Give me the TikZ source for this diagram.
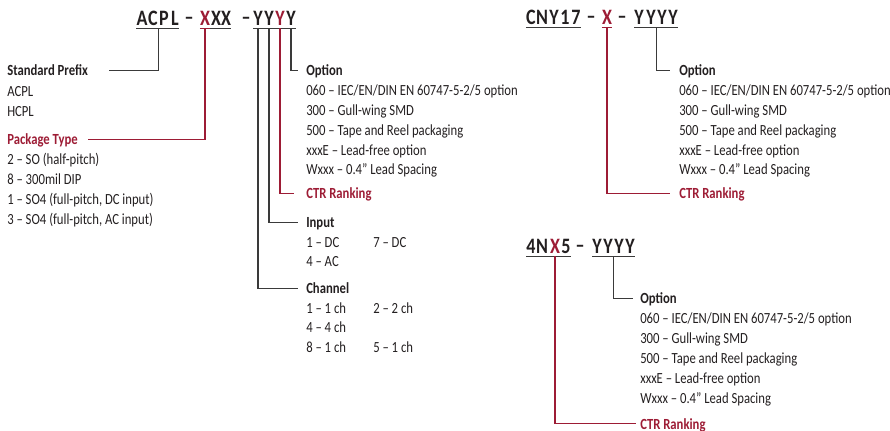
\documentclass[tikz,border=0pt]{standalone}
\usepackage{fontspec}
\setmainfont{Carlito}[FakeStretch=0.82]
\usetikzlibrary{calc}

\definecolor{txtgray}{HTML}{231F20}
\definecolor{lngray}{HTML}{3A3A3A}
\definecolor{ctrred}{HTML}{9D1C35}

\tikzset{
  ttl/.style={anchor=base, inner xsep=0pt, inner ysep=1.5pt, text depth=0pt,
    text=txtgray, font=\bfseries\fontsize{16.5}{16.5}\selectfont},
  item/.style={anchor=base west, inner sep=0pt, text=txtgray,
    font=\fontsize{11.6}{13}\selectfont},
  head/.style={item, text height=8pt, text depth=0pt, font=\bfseries\fontsize{11.6}{13}\selectfont},
  redhead/.style={head, text=ctrred},
  conn/.style={draw=lngray, line width=1pt},
  uline/.style={draw=lngray, line width=1pt}
}

\begin{document}
\begin{tikzpicture}[x=0.75pt,y=-0.75pt]
\useasboundingbox (0,0) rectangle (890,431);

%--- ACPL - XXX - YYYY
\foreach \ch/\cx [count=\i] in {A/142,C/153,P/164,L/175}
    \node[ttl] (acpl\i) at (\cx,26) {\ch};
\node[ttl] (dsha) at (189,25) {–};
\foreach \cl/\cx [count=\i] in {ctrred/205,txtgray/216,txtgray/226}
    \node[ttl,text=\cl] (acplx\i) at (\cx,26) {X};
\node[ttl] (dshb) at (246,25) {–};
\foreach \cl/\cx [count=\i] in {txtgray/258,txtgray/269,ctrred/280,txtgray/291}
    \node[ttl,text=\cl] (acply\i) at (\cx,26) {Y};
\draw[uline] (acpl1.south west) -- (acpl4.south east);
\draw[uline,draw=ctrred] (acplx1.south west) -- (acplx1.south east);
\draw[uline] (acplx1.south east) -- (acplx3.south east);
\draw[uline] (acply1.south west) -- (acply4.south east);

%--- CNY17 - X - YYYY
\foreach \ch/\cx [count=\i] in {C/531,N/542,Y/554,1/565,7/576}
    \node[ttl] (cny\i) at (\cx,25) {\ch};
\node[ttl] (dshc) at (591,24) {–};
\node[ttl,text=ctrred] (cnyx) at (607,25) {X};
\node[ttl] (dshd) at (622,24) {–};
\foreach \cx [count=\i] in {639,651,662,673}
    \node[ttl] (cnyy\i) at (\cx,25) {Y};
\draw[uline] (cny1.south west) -- (cny5.south east);
\draw[uline,draw=ctrred] (cnyx.south west) -- (cnyx.south east);
\draw[uline] (cnyy1.south west) -- (cnyy4.south east);

%--- 4NX5 - YYYY
\foreach \ch/\cl/\cx [count=\i] in {4/txtgray/531,N/txtgray/542,X/ctrred/555,5/txtgray/566}
    \node[ttl,text=\cl] (fnx\i) at (\cx,254) {\ch};
\node[ttl] (dshe) at (580,253) {–};
\foreach \cx [count=\i] in {597,608,619,630}
    \node[ttl] (fnxy\i) at (\cx,254) {Y};
\draw[uline] (fnx1.south west) -- (fnx4.south east);
\draw[uline] (fnxy1.south west) -- (fnxy4.south east);

%--- left column
\node[head] (spfx) at (7,76) {Standard Prefix};
\node[item] (pfx1) at (7,97) {ACPL};
\node[item] (pfx2) at (7,117) {HCPL};
\node[redhead] (pkg) at (7,145) {Package Type};
\foreach \t [count=\k] in {{2 – SO (half-pitch)},{8 – 300mil DIP},
    {1 – SO4 (full-pitch, DC input)},{3 – SO4 (full-pitch, AC input)}}
    \node[item] (pkg\k) at (7,{145+\k*20}) {\t};

%--- option lists and CTR ranking
\foreach \nm/\ox/\oy/\cy in {a/306/76/199,b/679/76/199,c/640/304/429}
{
    \node[head] (opt\nm) at (\ox,\oy) {Option};
    \foreach \t [count=\k] in {060 – IEC/EN/DIN EN 60747-5-2/5 option,
        300 – Gull-wing SMD, 500 – Tape and Reel packaging,
        xxxE – Lead-free option, Wxxx – 0.4” Lead Spacing}
        \node[item] (opt\nm\k) at (\ox,{\oy+\k*19.8}) {\t};
    \node[redhead] (ctr\nm) at (\ox,\cy) {CTR Ranking};
}

%--- input and channel
\node[head] (inp) at (306,228) {Input};
\node[item] (inp1) at (306,248) {1 – DC};
\node[item] (inp2) at (373,248) {7 – DC};
\node[item] (inp3) at (306,267) {4 – AC};
\node[head] (chn) at (306,294) {Channel};
\node[item] (chn1) at (306,314) {1 – 1 ch};
\node[item] (chn2) at (373,314) {2 – 2 ch};
\node[item] (chn3) at (306,333) {4 – 4 ch};
\node[item] (chn4) at (306,353) {8 – 1 ch};
\node[item] (chn5) at (373,353) {5 – 1 ch};

%--- connectors
\draw[conn] ($(acpl2.south)!0.5!(acpl3.south)$) |- ([shift={(21,0)}]spfx.east);
\draw[conn,draw=ctrred] (acplx1.south) |- ([shift={(10,0)}]pkg.east);
\draw[conn] (acply4.south) |- ([shift={(-8,0)}]opta.west);
\draw[conn,draw=ctrred] (acply3.south) |- ([shift={(-12,0)}]ctra.west);
\draw[conn] (acply2.south) |- ([shift={(-8,0)}]inp.west);
\draw[conn] (acply1.south) |- ([shift={(-8,0)}]chn.west);

\draw[conn] ($(cnyy2.south)!0.5!(cnyy3.south)$) |- ([shift={(-9,0)}]optb.west);
\draw[conn,draw=ctrred] (cnyx.south) |- ([shift={(-9,0)}]ctrb.west);

\draw[conn] ($(fnxy2.south)!0.5!(fnxy3.south)$) |- ([shift={(-7,0)}]optc.west);
\draw[conn,draw=ctrred] (fnx3.south) |- ([shift={(-4,0)}]ctrc.west);

\end{tikzpicture}
\end{document}
